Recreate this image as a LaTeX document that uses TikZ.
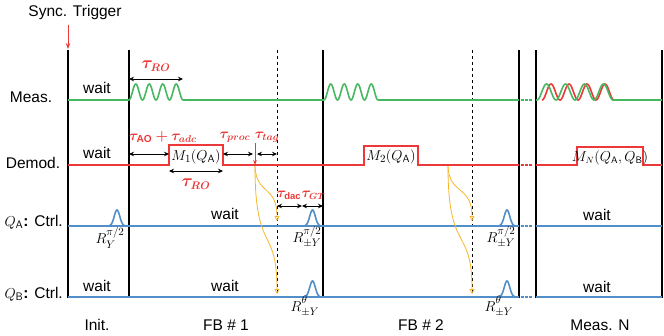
\documentclass[tikz,border=0pt]{standalone}
\usepackage{amsmath,bm}
\usepackage{fontspec}
\setmainfont{Liberation Sans}
\usetikzlibrary{arrows.meta}
\definecolor{cgreen}{RGB}{72,184,96}
\definecolor{cred}{RGB}{236,56,56}
\definecolor{cblue}{RGB}{82,142,200}
\definecolor{cyel}{RGB}{246,182,40}
\begin{document}
\begin{tikzpicture}[x=1pt,y=-1pt,
  sig/.style={line width=1.6pt},
  bar/.style={line width=1.3pt,black},
  dim/.style={{Stealth[length=5pt,width=4.5pt]}-{Stealth[length=5pt,width=4.5pt]},line width=0.8pt},
  lbl/.style={font=\fontsize{15.5}{18}\selectfont,inner sep=0pt},
  tau/.style={text=cred,font=\fontsize{16}{18}\selectfont,inner sep=0pt},
  taum/.style={text=cred,font=\fontsize{14.5}{17}\selectfont,inner sep=0pt},
  taus/.style={text=cred,font=\fontsize{13.5}{15}\selectfont,inner sep=0pt},
  mlab/.style={font=\fontsize{15}{17}\selectfont,inner sep=0pt},
  mlabs/.style={font=\fontsize{13.5}{15}\selectfont,inner sep=0pt},
  rlab/.style={font=\fontsize{15.5}{17}\selectfont,inner sep=0pt},
  fb/.style={cyel,line width=0.8pt,-{Triangle[open,length=5pt,width=5pt]}}]
\useasboundingbox (0,0) rectangle (664,335);
% vertical bars
\foreach \x in {68,129,323,519,536,662} \draw[bar] (\x,50) -- (\x,298);
\draw[dashed,line width=0.9pt] (277,50) -- (277,298);
\draw[dashed,line width=0.9pt] (472,50) -- (472,298);
% trigger
\node[lbl] (trig) at (75,12) {Sync. Trigger};
\draw[cred,line width=1pt,-{Stealth[length=6pt]}] (68,25) -- (68,49);
% row labels
\node[lbl] (meas) at (31,97) {Meas.};
\node[lbl] (demod) at (33,163) {Demod.};
\node[lbl,anchor=east] (qa) at (63,222) {$Q_{\textsf{A}}$\textbf{:} Ctrl.};
\node[lbl,anchor=east] (qb) at (63,294) {$Q_{\textsf{B}}$\textbf{:} Ctrl.};
% bottom labels
\node[lbl] (init) at (97,325) {Init.};
\node[lbl] (fb1) at (226,325) {FB \# 1};
\node[lbl] (fb2) at (421,325) {FB \# 2};
\node[lbl] (measn) at (600,325) {Meas. N};
% wait labels
\node[lbl] (w1) at (97,88) {wait};
\node[lbl] (w2) at (97,153) {wait};
\node[lbl] (w3) at (225,214) {wait};
\node[lbl] (w4) at (97,286) {wait};
\node[lbl] (w5) at (225,286) {wait};
\node[lbl] (w6) at (597,215) {wait};
\node[lbl] (w7) at (597,287) {wait};
% Meas row
\draw[cgreen,sig] (68,100) -- (129,100);
\draw[cgreen,sig] plot[domain=0:1,samples=120] ({129+54*\x},{100-8*(1-cos(4*360*\x))});
\draw[cgreen,sig] (183,100) -- (324,100);
\draw[cgreen,sig] plot[domain=0:1,samples=120] ({324+54*\x},{100-8*(1-cos(4*360*\x))});
\draw[cgreen,sig] (378,100) -- (519,100);
\draw[cred,sig] plot[domain=0:1,samples=120] ({542+72*\x},{100-8*(1-cos(4*360*\x))});
\draw[cgreen,sig] (536,100) -- (537,100) plot[domain=0:1,samples=120] ({537+76*\x},{100-8*(1-cos(4*360*\x))}) -- (662,100);
% Demod row
\draw[cred,sig] (68,165) -- (169,165) -- (169,145) -- (223,145) -- (223,165) -- (364,165) -- (364,146) -- (418,146) -- (418,165) -- (519,165);
\draw[cred,sig] (536,165) -- (577,165) -- (577,147) -- (643,147) -- (643,165) -- (662,165);
\node[mlab] (m1) at (196,157) {$M_1(Q_{\textsf{A}})$};
\node[mlab] (m2) at (391,157) {$M_2(Q_{\textsf{A}})$};
\node[mlabs] (mn) at (610,158) {$M_N(Q_{\textsf{A}},Q_{\textsf{B}})$};
% Ctrl rows
\draw[cblue,sig] (68,226) -- (519,226);
\draw[cblue,sig] (536,226) -- (662,226);
\draw[cblue,sig] (68,297) -- (519,297);
\draw[cblue,sig] (536,297) -- (662,297);
\foreach \c in {117,312.5,507}
  \draw[cblue,sig] plot[domain=-9:9,samples=50] ({\c+\x},{226-16*exp(-(\x/3.9)*(\x/3.9))});
\foreach \c in {312.5,507}
  \draw[cblue,sig] plot[domain=-9:9,samples=50] ({\c+\x},{297-16*exp(-(\x/3.9)*(\x/3.9))});
% dots
\foreach \y/\col in {100/cgreen,165/cred,226/cblue,297/cblue}
  \foreach \x in {522.5,526.5,530.5}
    \fill[\col] (\x-1.2,\y-1.3) rectangle (\x+1.2,\y+1.3);
% rotation labels
\node[rlab] (r0) at (110,238) {$R_{Y}^{\pi/2}$};
\node[rlab] (r1) at (307,237) {$R_{\pm Y}^{\pi/2}$};
\node[rlab] (r2) at (305,306) {$R_{\pm Y}^{\theta\vphantom{/}}$};
\node[rlab] (r3) at (501,237) {$R_{\pm Y}^{\pi/2}$};
\node[rlab] (r4) at (499,306) {$R_{\pm Y}^{\theta\vphantom{/}}$};
% timing arrows
\draw[dim] (129,79) -- (183,79);
\node[tau] (tro1) at (156,66) {$\bm{\tau_{RO}}$};
\draw[dim] (129,154) -- (169,154);
\node[taum] (tao) at (163,137) {$\bm{\tau}_{\textbf{AO}}\bm{+}\bm{\tau_{adc}}$};
\draw[dim] (169,171) -- (223,171);
\node[tau] (tro2) at (196,184) {$\bm{\tau_{RO}}$};
\draw[dim] (223,154) -- (253,154);
\node[taum] (tproc) at (235,137) {$\bm{\tau_{proc}}$};
\draw[dim] (257,154) -- (277,154);
\node[taum] (ttag) at (267,137) {$\bm{\tau_{tag}}$};
\draw[cred,line width=1pt,-{Stealth[length=5pt]}] (255,143) -- (255,165);
\draw[dim] (277,206) -- (302,206);
\node[taus] (tdac) at (289,195) {$\bm{\tau}_{\textbf{dac}}$};
\draw[dim] (302,206) -- (323,206);
\node[taus] (tgt) at (313.5,195) {$\bm{\tau_{GT}}$};
% feedback curves
\draw[fb] (255,166) .. controls (256,195) and (277,185) .. (277,221);
\draw[fb] (255,166) .. controls (255,255) and (277,225) .. (277,294);
\draw[fb] (448,166) .. controls (449,195) and (472,185) .. (472,221);
\draw[fb] (448,166) .. controls (448,255) and (472,225) .. (472,294);
\end{tikzpicture}
\end{document}
